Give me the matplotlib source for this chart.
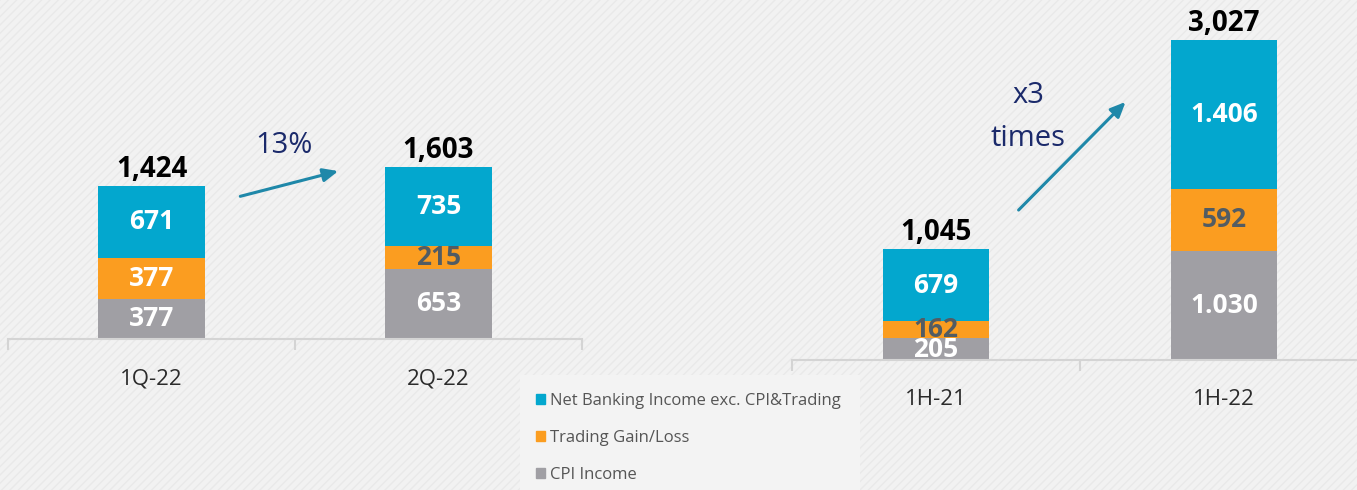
import numpy as np
import matplotlib.pyplot as plt
from matplotlib.patches import Patch, Rectangle

plt.rcParams['font.family'] = ['Open Sans', 'DejaVu Sans']

# data
quarters = ['1Q-22', '2Q-22']
q_cpi = [377, 653]
q_trading = [377, 215]
q_nbi = [671, 735]
q_total = [1424, 1603]

halves = ['1H-21', '1H-22']
h_cpi = [205, 1030]
h_trading = [162, 592]
h_nbi = [679, 1406]
h_total = [1045, 3027]

series_names = ['Net Banking Income exc. CPI&Trading', 'Trading Gain/Loss', 'CPI Income']

c_blue = '#03a7ce'
c_orange = '#fb9d20'
c_grey = '#a09fa4'
c_dark = '#525c63'
c_arrow = '#1f88a9'
c_navy = '#1b2a6b'

W, H = 1357, 490
fig = plt.figure(figsize=(W / 100, H / 100), dpi=100)
fig.patch.set_facecolor('#f2f2f2')
fig.patches.append(Rectangle((0, 0), 1, 1, transform=fig.transFigure, facecolor='#f2f2f2',
                             edgecolor='#e9e9e9', hatch='////', linewidth=0, zorder=-10))
fig.patches.append(Rectangle((520 / W, 0), 340 / W, 115 / H, transform=fig.transFigure,
                             facecolor='#f3f3f3', edgecolor='none', zorder=-9))


def panel(rect, cats, cpi, trad, nbi, total, ymax, orange_txt):
    ax = fig.add_axes(rect)
    ax.set_facecolor('none')
    x = np.arange(len(cats))
    w = 0.37
    cpi = np.array(cpi); trad = np.array(trad); nbi = np.array(nbi)
    ax.bar(x, cpi, w, color=c_grey)
    ax.bar(x, trad, w, bottom=cpi, color=c_orange)
    ax.bar(x, nbi, w, bottom=cpi + trad, color=c_blue)
    for i in range(len(cats)):
        ax.text(x[i], cpi[i] / 2, f'{cpi[i]:,}'.replace(',', '.'), ha='center', va='center',
                color='white', fontsize=19, fontweight='bold')
        ax.text(x[i], cpi[i] + trad[i] / 2, f'{trad[i]:,}'.replace(',', '.'), ha='center', va='center',
                color=orange_txt[i], fontsize=19, fontweight='bold')
        ax.text(x[i], cpi[i] + trad[i] + nbi[i] / 2, f'{nbi[i]:,}'.replace(',', '.'), ha='center',
                va='center', color='white', fontsize=19, fontweight='bold')
        ax.annotate(f'{total[i]:,}', (x[i], cpi[i] + trad[i] + nbi[i]), xytext=(0, 9),
                    textcoords='offset pixels', ha='center', va='baseline', color='black',
                    fontsize=20, fontweight='bold')
    ax.set_xlim(-0.5, len(cats) - 0.5)
    ax.set_ylim(0, ymax)
    for s in ['top', 'right', 'left']:
        ax.spines[s].set_visible(False)
    ax.spines['bottom'].set_color('#d4d4d4')
    ax.spines['bottom'].set_linewidth(1.5)
    ax.set_yticks([])
    ax.set_xticks(x)
    ax.set_xticklabels(cats, fontsize=16, color='#2b2b2b')
    ax.set_xticks(np.arange(-0.5, len(cats)), minor=True)
    ax.tick_params(axis='x', which='major', length=0, pad=21)
    ax.tick_params(axis='x', which='minor', length=8, width=1.5, color='#d4d4d4')
    return ax


ax1 = panel([8 / W, (H - 339) / H, 574 / W, 339 / H], quarters, q_cpi, q_trading, q_nbi, q_total,
            339 / 0.1074, ['white', c_dark])
ax2 = panel([792 / W, (H - 360) / H, 576 / W, 360 / H], halves, h_cpi, h_trading, h_nbi, h_total,
            360 / 0.1057, [c_dark, c_dark])

ax1.annotate('', xy=(0.66, 1570), xytext=(0.30, 1322),
             arrowprops=dict(arrowstyle='-|>,head_length=0.9,head_width=0.4', color=c_arrow, lw=2.2))
ax1.text(0.46, 1800, '13%', ha='center', va='center', color=c_navy, fontsize=21)

ax2.annotate('', xy=(0.665, 2460), xytext=(0.28, 1400),
             arrowprops=dict(arrowstyle='-|>,head_length=0.9,head_width=0.4', color=c_arrow, lw=2.2))
ax2.text(0.32, 2500, 'x3', ha='center', va='center', color=c_navy, fontsize=21)
ax2.text(0.32, 2100, 'times', ha='center', va='center', color=c_navy, fontsize=21)

handles = [Patch(color=c_blue), Patch(color=c_orange), Patch(color=c_grey)]
fig.legend(handles, series_names, loc='upper left', bbox_to_anchor=(536 / W, 1 - 393 / H),
           frameon=False, fontsize=12, handlelength=0.55, handleheight=0.55, handletextpad=0.3,
           labelspacing=1.25, labelcolor='#555555', borderaxespad=0, borderpad=0)

fig.savefig('out.png', dpi=100, facecolor=fig.get_facecolor())
